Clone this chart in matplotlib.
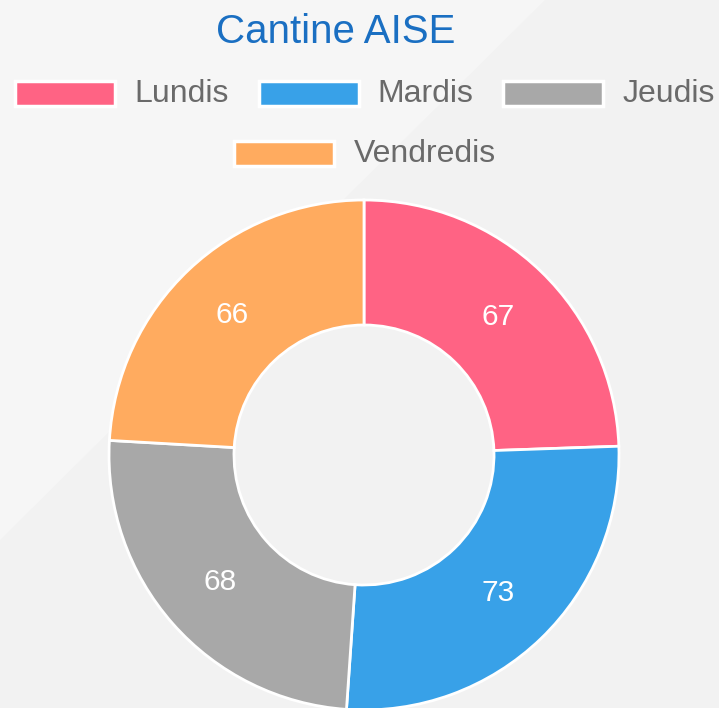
import matplotlib
matplotlib.use("Agg")
import matplotlib.pyplot as plt
from matplotlib.patches import Rectangle, Polygon
import numpy as np

plt.rcParams['font.family'] = ['Liberation Sans', 'DejaVu Sans']

# data
jours = ['Lundis', 'Mardis', 'Jeudis', 'Vendredis']
valeurs = [67, 73, 68, 66]
couleurs = ['#ff6384', '#38a1e8', '#a8a8a8', '#ffab5f']
titre = 'Cantine AISE'

W, H = 719, 708
fig = plt.figure(figsize=(W / 100, H / 100), dpi=100)
fig.patch.set_facecolor('#f2f2f2')
ax = fig.add_axes([0, 0, 1, 1])
ax.set_facecolor('#f2f2f2')

# subtle lighter diagonal in the background
ax.add_patch(Polygon([(0, H), (545, H), (0, H - 540)], closed=True,
                     facecolor='#f6f6f6', edgecolor='none', zorder=0))

# donut (pixel coords, y up)
cx, cy = 364, H - 455
r_out, r_in = 255, 130
wedges, _ = ax.pie(valeurs, colors=couleurs, startangle=90, counterclock=False,
                   center=(cx, cy), radius=r_out,
                   wedgeprops=dict(width=r_out - r_in, edgecolor='white', linewidth=2))
for w, v in zip(wedges, valeurs):
    ang = np.deg2rad((w.theta1 + w.theta2) / 2)
    r_mid = (r_out + r_in) / 2
    ax.text(cx + r_mid * np.cos(ang), cy + r_mid * np.sin(ang), str(v),
            color='white', fontsize=21.5, ha='center', va='center')

ax.set_xlim(0, W)
ax.set_ylim(0, H)
ax.set_aspect('equal')
ax.axis('off')

# title
ax.text(W / 2 - 24, H - 32, titre, color='#1a6fc2', fontsize=29,
        ha='center', va='center')

# legend, chart.js style, centred rows
box_w, box_h, pad, gap = 100, 25, 19, 30
renderer = fig.canvas.get_renderer()
items = []
for lab in jours:
    t = ax.text(0, 0, lab, fontsize=23, color='#6a6a6a', va='center', ha='left')
    tw = t.get_window_extent(renderer).width
    items.append((t, tw))

rows, cur, cur_w = [], [], 0
for i, (t, tw) in enumerate(items):
    iw = box_w + pad + tw
    if cur and cur_w + gap + iw > W - 10:
        rows.append(cur)
        cur, cur_w = [], 0
    cur_w = iw if not cur else cur_w + gap + iw
    cur.append(i)
rows.append(cur)

y0 = H - 93.5
for r, row in enumerate(rows):
    widths = [box_w + pad + items[i][1] for i in row]
    total = sum(widths) + gap * (len(row) - 1)
    x = cx + 1 - total / 2
    yc = y0 - r * 60
    for i, wdt in zip(row, widths):
        ax.add_patch(Rectangle((x, yc - box_h / 2), box_w, box_h,
                               facecolor=couleurs[i], edgecolor='white', linewidth=2.5))
        items[i][0].set_position((x + box_w + pad, yc))
        x += wdt + gap

fig.savefig('out.png', dpi=100, facecolor=fig.get_facecolor())
